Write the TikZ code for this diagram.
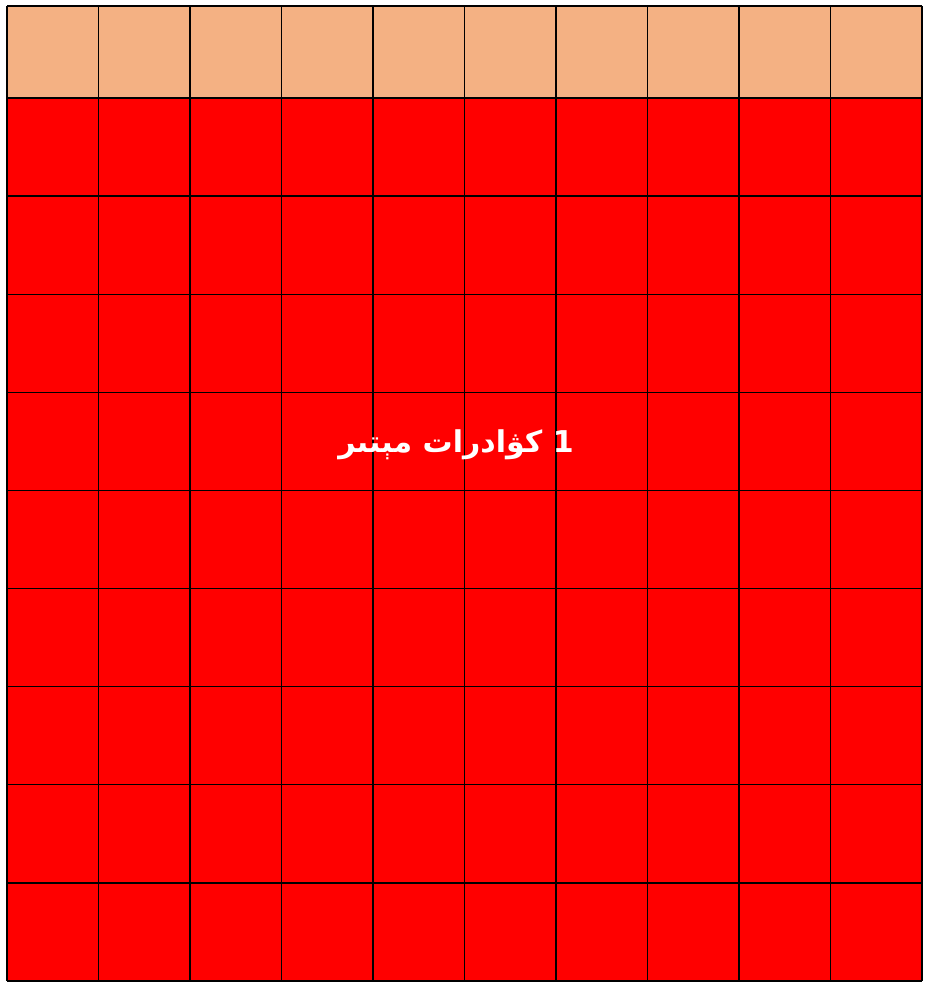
\documentclass[tikz,border=0pt]{standalone}
\usepackage{fontspec}
\newfontfamily\arabicfont[Script=Arabic]{DejaVu Sans}
\TeXXeTstate=1
\definecolor{headpeach}{HTML}{F4B183}
\definecolor{cellred}{HTML}{FF0000}

\begin{document}
\begin{tikzpicture}[
  x=1pt,y=-1pt,
  gridline/.style={line width=1.3pt,black},
  note/.style={text=white,font=\arabicfont\bfseries\fontsize{30}{34}\selectfont}
]
  \useasboundingbox (0,0) rectangle (926,984);

  % Header row and the red body, ten columns wide.
  \fill[headpeach] (7,6) rectangle (922,98);
  \fill[cellred] (7,98) rectangle (922,981);

  % Cell borders.
  \foreach \i in {0,...,10}
    \draw[gridline] ({7+91.5*\i},6) -- ({7+91.5*\i},981);
  \draw[gridline] (7,6) -- (922,6);
  \foreach \j in {0,...,9}
    \draw[gridline] (7,{98+98.11*\j}) -- (922,{98+98.11*\j});

  \node[note] (area) at (456,445) {\beginR 1 كۋادرات مېتىر\endR};
\end{tikzpicture}
\end{document}
